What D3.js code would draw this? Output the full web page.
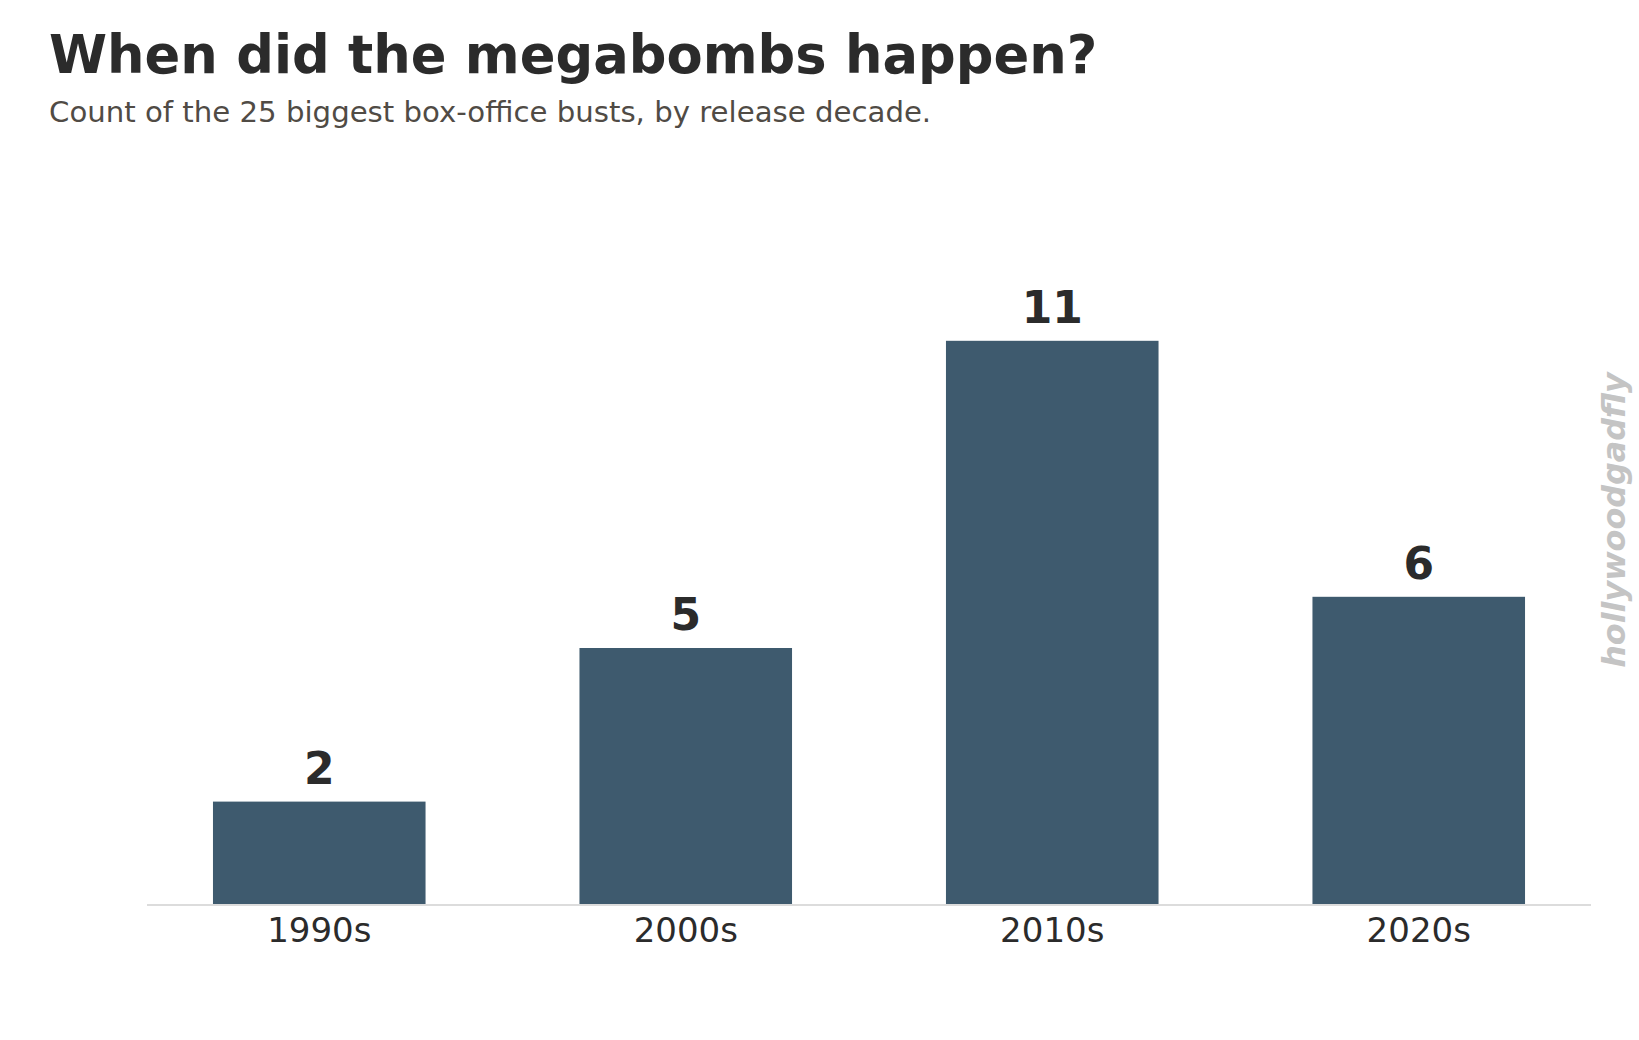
<!DOCTYPE html>
<html>
<head>
<meta charset="utf-8">
<script src="https://cdn.jsdelivr.net/npm/d3@7/dist/d3.min.js"></script>
<style>
  html, body { margin: 0; padding: 0; background: #ffffff; }
  svg { display: block; }
</style>
</head>
<body>
<script>
const decades = ["1990s", "2000s", "2010s", "2020s"];
const counts = [2, 5, 11, 6];
const yTicksMax = 12;

const W = 1639, H = 1040;
const svg = d3.select("body").append("svg").attr("width", W).attr("height", H);
const font = "'DejaVu Sans', sans-serif";

const x = d3.scaleBand().domain(decades).range([147, 1591]).paddingInner(0.42).paddingOuter(0.18);
const y = d3.scaleLinear().domain([0, yTicksMax]).range([904, 289.6]);

// title
svg.append("text").attr("x", 49).attr("y", 73)
  .attr("font-family", font).attr("font-weight", "bold").attr("font-size", 52.7)
  .attr("fill", "#2b2b2b").text("When did the megabombs happen?");
svg.append("text").attr("x", 49).attr("y", 121.5)
  .attr("font-family", font).attr("font-size", 29.2)
  .attr("fill", "#504b45").text("Count of the 25 biggest box-office busts, by release decade.");

// bars
svg.selectAll("rect.bar").data(decades).join("rect").attr("class", "bar")
  .attr("x", d => x(d)).attr("width", x.bandwidth())
  .attr("y", (d, i) => y(counts[i])).attr("height", (d, i) => y(0) - y(counts[i]))
  .attr("fill", "#3e5a6e");

// axis
const axis = svg.append("g").attr("transform", `translate(0,${y(0)})`).call(d3.axisBottom(x).tickSize(0).tickPadding(0));
axis.select(".domain").attr("stroke", "#dcdcdc").attr("stroke-width", 2).attr("d", "M147,1H1591");
axis.selectAll(".tick text").attr("font-family", font).attr("font-size", 34)
  .attr("fill", "#2b2b2b").attr("dy", null).attr("y", 38);

// value labels
svg.selectAll("text.val").data(decades).join("text").attr("class", "val")
  .attr("x", d => x(d) + x.bandwidth() / 2)
  .attr("y", (d, i) => y(counts[i]) - 18)
  .attr("text-anchor", "middle")
  .attr("font-family", font).attr("font-weight", "bold").attr("font-size", 44)
  .attr("fill", "#2b2b2b").text((d, i) => counts[i]);

// watermark
svg.append("text").attr("transform", "translate(1625,520) rotate(-90)")
  .attr("text-anchor", "middle")
  .attr("font-family", font).attr("font-weight", "bold").attr("font-style", "italic")
  .attr("font-size", 31.8).attr("fill", "#c4c4c4").text("hollywoodgadfly");
</script>
</body>
</html>
